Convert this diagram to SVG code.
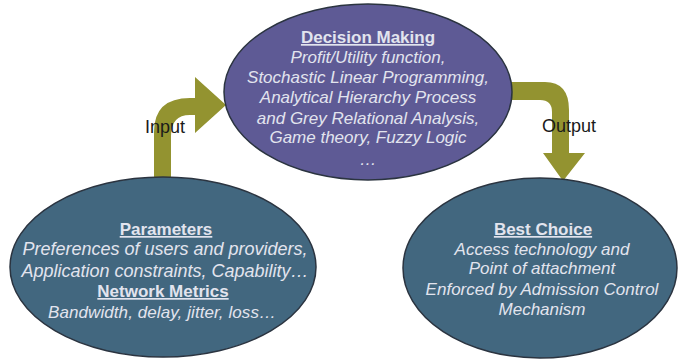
<svg xmlns="http://www.w3.org/2000/svg" width="678" height="360" viewBox="0 0 678 360">
<style>
.bg{fill:#ffffff}
.ell{stroke:#2b3440;stroke-width:1.5}
.top{fill:#5e5a95}
.side{fill:#42677f}
.arrow{fill:#939330}
.t{font-family:"Liberation Sans",Arial,sans-serif;font-size:17px;fill:#e2e4ee;text-anchor:middle}
.h{font-weight:bold;text-decoration:underline}
.b{font-style:italic}
.lg{font-size:18px}
.lbl{font-family:"Liberation Sans",Arial,sans-serif;font-size:18px;fill:#1a1a1a;text-anchor:middle}
</style>
<rect class="bg" x="0" y="0" width="678" height="360"/>
<g id="connectors">
  <path id="input-arrow" class="arrow" d="M154,179 L154,132 Q154,98 190,98 L195,98 L195,77 L226,105 L195,133 L195,115 L190,115 Q171,115 171,136 L171,179 Z"/>
  <path id="output-arrow" class="arrow" d="M505,82 L545,82 Q569,82 569,110 L569,153 L585,153 L563,181 L543,153 L552,153 L552,112 Q552,100 540,100 L505,100 Z"/>
  <text class="lbl" x="165" y="133">Input</text>
  <text class="lbl" x="569" y="132">Output</text>
</g>
<g id="decision-making">
  <ellipse class="ell top" cx="368" cy="92" rx="144" ry="88"/>
  <text class="t h" x="368" y="43">Decision Making</text>
  <text class="t b" x="368" y="63">Profit/Utility function,</text>
  <text class="t b" x="368" y="83">Stochastic Linear Programming,</text>
  <text class="t b" x="368" y="103">Analytical Hierarchy Process</text>
  <text class="t b" x="368" y="124">and Grey Relational Analysis,</text>
  <text class="t b" x="368" y="143">Game theory, Fuzzy Logic</text>
  <text class="t b" x="368" y="165">…</text>
</g>
<g id="parameters">
  <ellipse class="ell side" cx="163" cy="267" rx="153" ry="90"/>
  <text class="t h" x="166" y="235">Parameters</text>
  <text class="t b lg" x="165" y="255">Preferences of users and providers,</text>
  <text class="t b lg" x="165" y="277">Application constraints, Capability…</text>
  <text class="t h" x="163" y="297">Network Metrics</text>
  <text class="t b" x="162" y="318" textLength="228" lengthAdjust="spacing">Bandwidth, delay, jitter, loss…</text>
</g>
<g id="best-choice">
  <ellipse class="ell side" cx="540" cy="268" rx="137" ry="90"/>
  <text class="t h" x="543" y="235">Best Choice</text>
  <text class="t b" x="542" y="255">Access technology and</text>
  <text class="t b" x="542" y="274">Point of attachment</text>
  <text class="t b" x="542" y="295">Enforced by Admission Control</text>
  <text class="t b" x="542" y="315">Mechanism</text>
</g>
</svg>
